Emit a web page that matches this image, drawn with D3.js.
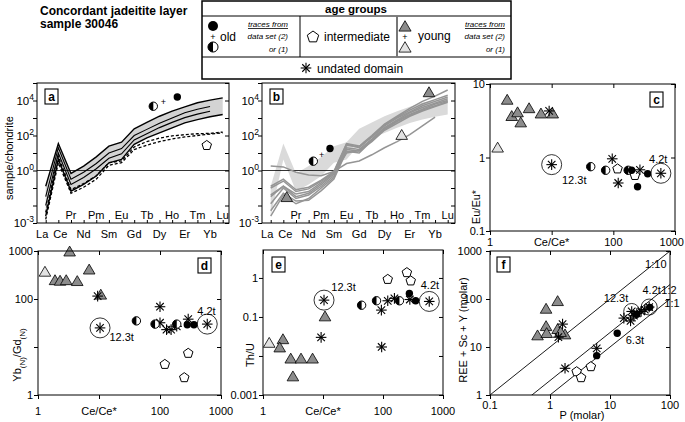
<!DOCTYPE html>
<html><head><meta charset="utf-8">
<script src="https://cdn.jsdelivr.net/npm/d3@7"></script>
<style>
body{margin:0;background:#fff}
svg{display:block}
text{font-family:"Liberation Sans",Arial,sans-serif;fill:#000}
</style>
</head><body>
<svg id="chart" width="685" height="422"></svg>
<script>
// ---------------- DATA ----------------
const elements = ["La","Ce","Pr","Nd","Pm","Sm","Eu","Gd","Tb","Dy","Ho","Er","Tm","Yb","Lu"];
// panel a: envelope of old/intermediate zircon patterns
const envUpper = [0.126,34.7,0.68,1.78,6.0,24.5,41.7,240,562,1260,2450,4360,7410,10500,14100];
const envLower = [0.0025,4.3,0.066,0.16,0.48,2.75,4.3,31,74,141,275,525,813,1175,1585];
const aSolid = [
  [0.032,20,0.32,0.79,2.5,10,17.8,100,224,500,1000,2000,3160,4570,null],
  [0.01,10,0.16,0.4,1.26,5,8.9,56,126,282,562,1050,1660,2450,null]
];
const aDashed = [
  [0.0016,2.8,0.05,0.11,0.32,2.0,2.8,15.8,28,45,63,83,100,120,141],
  [0.004,6.3,0.08,0.18,0.5,2.8,3.5,22,45,71,95,112,126,132,158]
];
// panel b: young zircon patterns
const bLines = [
  [1.8,1.6,0.79,0.56,0.5,0.89,2.5,3.5,7.9,20,45,112,355,1120,null],
  [0.126,0.32,0.079,0.11,0.28,0.89,35,25,100,450,1260,3550,8900,17800,40000],
  [0.1,0.25,0.063,0.089,0.25,0.79,32,20,89,400,1120,2800,6300,11200,20000],
  [0.04,0.126,0.032,0.05,0.16,0.63,28,22,79,355,1000,2240,5000,8900,15800],
  [0.0126,0.1,0.025,0.04,0.126,0.5,20,16,63,280,790,2000,4000,7100,12600],
  [0.0025,0.04,0.0126,0.025,0.1,0.4,16,12.6,56,250,710,1580,3160,6300,10000],
  [0.005,0.05,0.018,0.02,0.071,0.32,12.6,10,50,224,630,1410,2800,5000,8900],
  [0.032,0.126,0.045,0.063,0.2,0.71,10,14,45,200,500,1260,2500,4470,7900]
];
// symbols on REE plots: [element index, value, type]
const aSymbols = [[8.51,4700,"half"],[10.41,15800,"full"],[12.74,27,"pent"]];
const bSymbols = [[3.37,3.4,"half"],[4.69,18,"full"],[1.27,0.028,"tri"],[12.52,27500,"tri"],[10.36,100,"triL"]];
const aPlus = [9.3,7900];
const bPlus = [4.03,7.2];

// panel c: Ce/Ce* vs Eu/Eu*
const cPoints = [
  [1.9,6.0,"tri"],[2.25,3.6,"tri"],[2.8,4.05,"tri"],[3.15,2.95,"tri"],[4.3,4.6,"tri"],[6.7,3.9,"tri"],[10.4,3.9,"tri"],
  [1.33,1.34,"triL"],[9.1,4.3,"ast"],
  [10,0.8,"cast"],[43,0.75,"half"],[75,0.67,"half"],[96,0.96,"ast"],[117,0.70,"pent"],[120,0.45,"ast"],
  [174,0.67,"half"],[198,0.67,"full"],[224,0.57,"pent"],[270,0.68,"ast"],[360,0.6,"full"],[247,0.40,"full"],[590,0.61,"cast"]
];
const cNotes = [[23.2,0.50,"12.3t"],[535,0.94,"4.2t"]];

// panel d: Ce/Ce* vs Yb(N)/Gd(N)
const dPoints = [
  [3.3,950,"tri"],[1.9,240,"tri"],[2.3,234,"tri"],[2.9,240,"tri"],[4.4,230,"tri"],[6.9,400,"tri"],[10.7,120,"tri"],
  [1.3,360,"triL"],[9.5,115,"ast"],
  [10.4,25,"cast"],[41,35,"half"],[100,69,"ast"],[83,30,"half"],[100,32,"ast"],[128,23,"ast"],[152,23,"ast"],
  [188,27,"ast"],[188,30,"half"],[290,38,"ast"],[280,29,"full"],[360,29,"full"],[595,30,"cast"],
  [120,4.35,"pent"],[290,7.4,"pent"],[250,2.3,"pent"]
];
const dNotes = [[23.5,16,"12.3t"],[578,56,"4.2t"]];

// panel e: Ce/Ce* vs Th/U
const ePoints = [
  [10.8,0.10,"tri"],[2.15,0.026,"tri"],[1.9,0.016,"tri"],[2.9,0.0083,"tri"],[4.3,0.0083,"tri"],[6.7,0.0083,"tri"],[3.15,0.0029,"tri"],
  [1.27,0.021,"triL"],[9.3,0.03,"ast"],[95,0.017,"ast"],
  [10.4,0.27,"cast"],[44,0.2,"half"],[78,0.26,"half"],[94,0.15,"ast"],[120,0.26,"ast"],[155,0.3,"ast"],[188,0.26,"half"],
  [280,0.28,"ast"],[275,0.40,"full"],[350,0.26,"full"],[590,0.25,"cast"],
  [120,0.92,"pent"],[250,1.37,"pent"],[290,0.84,"pent"]
];
const eNotes = [[22,0.59,"12.3t"],[605,0.66,"4.2t"]];

// panel f: P vs REE+Sc+Y (molar)
const fPoints = [
  [1.34,88,"tri"],[0.86,61,"tri"],[0.86,26.5,"tri"],[1.34,23,"tri"],[0.62,17,"tri"],[0.88,19,"tri"],[1.78,17.8,"tri"],[1.5,20,"tri"],
  [1.62,30,"ast"],[1.38,16,"ast"],[1.78,3.6,"ast"],[6.0,9.4,"ast"],
  [2.78,3.06,"pent"],[3.3,2.3,"pent"],[4.8,3.9,"pent"],
  [6.0,6.6,"full"],[13.2,19.3,"full"],
  [17,40,"ast"],[22,35,"ast"],[25,45,"ast"],[28,50,"ast"],[33,55,"ast"],[38,60,"ast"],[28,48,"full"],
  [23,55,"cast"],[45,68,"cast"],[46,67,"full"]
];
const fRatios = [[10,"1:10"],[2,"1:2"],[1,"1:1"]];
const fNotes = [[12.6,107,"12.3t"],[49.5,155,"4.2t"],[26,14,"6.3t"],[58,537,"1:10"],[96,155,"1:2"],[108,83,"1:1"]];

// ---------------- DRAWING ----------------
const svg = d3.select("#chart");

function sym(g, t, px, py, s) {
  s = s || 1;
  if (t === "tri" || t === "triL") {
    const h = 6 * s, w = 5.8 * s;
    g.append("path").attr("d", `M${px},${py - h}L${px + w},${py + h * 0.65}L${px - w},${py + h * 0.65}Z`)
      .attr("fill", t === "tri" ? "#8c8c8c" : "#e2e2e2").attr("stroke", "#000").attr("stroke-width", 0.8);
  } else if (t === "full") {
    g.append("circle").attr("cx", px).attr("cy", py).attr("r", 3.7 * s).attr("fill", "#000");
  } else if (t === "half") {
    const r = 4.2 * s;
    g.append("circle").attr("cx", px).attr("cy", py).attr("r", r).attr("fill", "#fff").attr("stroke", "#000").attr("stroke-width", 1);
    g.append("path").attr("d", `M${px},${py - r}A${r},${r} 0 0 0 ${px},${py + r}Z`).attr("fill", "#000");
  } else if (t === "pent") {
    const r = 5 * s;
    const pts = d3.range(5).map(k => {
      const a = (-90 + k * 72) * Math.PI / 180;
      return [px + r * Math.cos(a), py + r * Math.sin(a)];
    });
    g.append("path").attr("d", "M" + pts.join("L") + "Z").attr("fill", "#fff").attr("stroke", "#000").attr("stroke-width", 1);
  } else if (t === "ast" || t === "cast" || t === "castS") {
    const a = 5.3 * s;
    [0, 45, 90, 135].forEach(deg => {
      const r = deg * Math.PI / 180;
      g.append("line").attr("x1", px - a * Math.cos(r)).attr("y1", py - a * Math.sin(r))
        .attr("x2", px + a * Math.cos(r)).attr("y2", py + a * Math.sin(r))
        .attr("stroke", "#000").attr("stroke-width", 1.1);
    });
    if (t !== "ast") {
      g.append("circle").attr("cx", px).attr("cy", py).attr("r", t === "cast" ? 10 : 8)
        .attr("fill", "none").attr("stroke", "#000").attr("stroke-width", 0.8);
    }
  }
}

function letterBox(x, y, ch) {
  svg.append("rect").attr("x", x).attr("y", y).attr("width", 13).attr("height", 15)
    .attr("fill", "#fff").attr("stroke", "#000").attr("stroke-width", 1.1);
  svg.append("text").attr("x", x + 6.5).attr("y", y + 11.5).attr("text-anchor", "middle")
    .attr("font-size", 12).attr("font-weight", "bold").text(ch);
}

function frame(x0, y0, x1, y1) {
  svg.append("rect").attr("x", x0).attr("y", y0).attr("width", x1 - x0).attr("height", y1 - y0)
    .attr("fill", "none").attr("stroke", "#000").attr("stroke-width", 1);
}

function stripAxis(g) { g.select(".domain").remove(); g.selectAll("text").remove(); }

// ---- REE panels a and b ----
const yR = d3.scaleLog().domain([1e-3, 1e5]).range([223, 83]);
const xA = d3.scaleLinear().domain([0, 14]).range([45.7, 222.7]);
const xB = d3.scaleLinear().domain([0, 14]).range([270.7, 447.7]);
const decades = [1e-3, 1e-2, 1e-1, 1, 10, 100, 1e3, 1e4, 1e5];
const yLab = [[1e-3, "-3"], [1, "0"], [100, "2"], [1e4, "4"]];

function reeFrame(x, x0, x1) {
  svg.append("g").attr("transform", `translate(${x0},0)`).call(d3.axisLeft(yR).tickValues(decades).tickSize(4).tickSizeOuter(0)).call(stripAxis);
  svg.append("g").attr("transform", `translate(${x1},0)`).call(d3.axisRight(yR).tickValues(decades).tickSize(-4).tickSizeOuter(0)).call(stripAxis);
  svg.append("g").attr("transform", `translate(0,223)`).call(d3.axisBottom(x).tickValues(d3.range(15)).tickSize(-3).tickSizeOuter(0)).call(stripAxis);
  svg.selectAll(null).data(yLab).enter().append("text")
    .attr("x", x0 - 3).attr("y", d => yR(d[0]) + 4).attr("text-anchor", "end").attr("font-size", 11.5)
    .each(function (d) {
      const t = d3.select(this);
      t.append("tspan").text("10");
      t.append("tspan").attr("dy", -5).attr("font-size", 8.5).text(d[1]);
    });
  elements.forEach((el, i) => {
    const bottomRow = (i === 0 || i % 2 === 1);
    const shift = i === 0 ? -3.5 : (i === 1 ? 2 : 0);
    svg.append("text").attr("x", x(i) + shift).attr("y", bottomRow ? 238 : 219).attr("text-anchor", "middle")
      .attr("font-size", 11).text(el);
  });
  svg.append("line").attr("x1", x0).attr("x2", x1).attr("y1", yR(1)).attr("y2", yR(1)).attr("stroke", "#000").attr("stroke-width", 0.8);
}

// panel a
const bandArea = x => d3.area().x((d, i) => x(i)).y0((d, i) => yR(envLower[i])).y1((d, i) => yR(envUpper[i]));
const lineGen = x => d3.line().defined(d => d != null).x((d, i) => x(i)).y(d => yR(d));

svg.append("path").datum(envUpper).attr("d", bandArea(xA)).attr("fill", "#d3d3d3");
reeFrame(xA, 37, 229);
aDashed.forEach(l => svg.append("path").datum(l).attr("d", lineGen(xA)).attr("fill", "none")
  .attr("stroke", "#000").attr("stroke-width", 1.3).attr("stroke-dasharray", "3,2"));
[envUpper, envLower].concat(aSolid).forEach((l, k) => svg.append("path").datum(l).attr("d", lineGen(xA))
  .attr("fill", "none").attr("stroke", "#000").attr("stroke-width", k < 2 ? 1.4 : 1.1));
aSymbols.forEach(d => sym(svg, d[2], xA(d[0]), yR(d[1])));
svg.append("text").attr("x", xA(aPlus[0])).attr("y", yR(aPlus[1]) + 3).attr("text-anchor", "middle").attr("font-size", 9).text("+");
frame(37, 83, 229, 223);
letterBox(45, 89, "a");
svg.append("text").attr("transform", "translate(13,158) rotate(-90)").attr("text-anchor", "middle").attr("font-size", 11).text("sample/chondrite");

// panel b
svg.append("path").datum(envUpper).attr("d", bandArea(xB)).attr("fill", "#dadada");
reeFrame(xB, 262, 455);
bLines.forEach(l => svg.append("path").datum(l).attr("d", lineGen(xB)).attr("fill", "none")
  .attr("stroke", "#959595").attr("stroke-width", 1.5));
bSymbols.forEach(d => sym(svg, d[2], xB(d[0]), yR(d[1])));
svg.append("text").attr("x", xB(bPlus[0])).attr("y", yR(bPlus[1]) + 3).attr("text-anchor", "middle").attr("font-size", 9).text("+");
frame(262, 83, 455, 223);
letterBox(270, 89, "b");

// ---- scatter panels ----
function scatterPanel(o) {
  const x = d3.scaleLog().domain(o.xd).range([o.x0, o.x1]);
  const y = d3.scaleLog().domain(o.yd).range([o.y1, o.y0]);
  svg.append("g").attr("transform", `translate(${o.x0},0)`).call(d3.axisLeft(y).tickValues(o.yt).tickSize(4).tickSizeOuter(0)).call(stripAxis);
  svg.append("g").attr("transform", `translate(${o.x1},0)`).call(d3.axisRight(y).tickValues(o.yt).tickSize(-4).tickSizeOuter(0)).call(stripAxis);
  svg.append("g").attr("transform", `translate(0,${o.y1})`).call(d3.axisBottom(x).tickValues(o.xt).tickSize(4).tickSizeOuter(0)).call(stripAxis);
  svg.append("g").attr("transform", `translate(0,${o.y0})`).call(d3.axisTop(x).tickValues(o.xt).tickSize(-4).tickSizeOuter(0)).call(stripAxis);
  o.yt.forEach((v, i) => {
    if (o.yl[i]) svg.append("text").attr("x", o.x0 - (o.ylx || 5)).attr("y", y(v) + 4).attr("text-anchor", "end").attr("font-size", 11).text(o.yl[i]);
  });
  o.xt.forEach((v, i) => {
    if (!o.xl[i]) return;
    const t = svg.append("text").attr("y", o.y1 + o.xly).attr("font-size", 11).text(o.xl[i]);
    if (x(v) + 13 > 684) t.attr("x", 684).attr("text-anchor", "end");
    else t.attr("x", x(v)).attr("text-anchor", "middle");
  });
  const g = svg.append("g");
  if (o.before) o.before(g, x, y);
  const order = { tri: 0, triL: 0, pent: 1, ast: 2, cast: 2, half: 3, full: 4 };
  o.pts.slice().sort((a, b) => order[a[2]] - order[b[2]]).forEach(d => {
    sym(g, d[2] === "cast" && o.small ? "castS" : d[2], x(d[0]), y(d[1]));
  });
  o.notes.forEach(n => svg.append("text").attr("x", x(n[0])).attr("y", y(n[1]) + 4).attr("text-anchor", "middle").attr("font-size", 11).text(n[2]));
  frame(o.x0, o.y0, o.x1, o.y1);
  return { x, y };
}

// panel c
scatterPanel({ x0: 490, x1: 675, y0: 84, y1: 231, xd: [1, 1000], yd: [0.1, 10],
  xt: [1, 10, 100, 1000], xl: ["1", "Ce/Ce*", "100", "1000"], xly: 15,
  yt: [0.1, 1, 10], yl: ["0.1", "1", "10"], pts: cPoints, notes: cNotes });
letterBox(650, 92, "c");
svg.append("text").attr("transform", "translate(480,207) rotate(-90)").attr("text-anchor", "middle").attr("font-size", 11).text("Eu/Eu*");

// panel d
scatterPanel({ x0: 38, x1: 221, y0: 251, y1: 395, xd: [1, 1000], yd: [1, 1000],
  xt: [1, 10, 100, 1000], xl: ["1", "Ce/Ce*", "100", "1000"], xly: 20,
  yt: [1, 10, 100, 1000], yl: ["1", "", "100", "1000"], pts: dPoints, notes: dNotes });
letterBox(198, 258, "d");
{
  const t = svg.append("text").attr("transform", "translate(21,355) rotate(-90)").attr("text-anchor", "middle").attr("font-size", 11);
  t.append("tspan").text("Yb");
  t.append("tspan").attr("dy", 3.5).attr("font-size", 8).text("(N)");
  t.append("tspan").attr("dy", -3.5).text("/Gd");
  t.append("tspan").attr("dy", 3.5).attr("font-size", 8).text("(N)");
}

// panel e
scatterPanel({ x0: 263, x1: 443, y0: 250, y1: 395, xd: [1, 1000], yd: [0.001, 5.2],
  xt: [1, 10, 100, 1000], xl: ["1", "Ce/Ce*", "100", "1000"], xly: 20,
  yt: [0.001, 0.01, 0.1, 1], yl: ["0.001", "", "0.1", "1"], pts: ePoints, notes: eNotes });
letterBox(272, 257, "e");
svg.append("text").attr("transform", "translate(254,355) rotate(-90)").attr("text-anchor", "middle").attr("font-size", 11).text("Th/U");

// panel f
scatterPanel({ x0: 490, x1: 670, y0: 251, y1: 395, xd: [0.1, 100], yd: [1, 1000],
  xt: [0.1, 1, 10, 100], xl: ["0.1", "1", "10", "100"], xly: 14, small: true, ylx: 8,
  yt: [1, 10, 100, 1000], yl: ["1", "10", "100", "1000"], pts: fPoints, notes: fNotes,
  before: (g, x, y) => {
    svg.append("clipPath").attr("id", "clipf").append("rect").attr("x", 490).attr("y", 251).attr("width", 180).attr("height", 144);
    fRatios.forEach(r => {
      const xs = [0.1, 100];
      g.append("line").attr("clip-path", "url(#clipf)")
        .attr("x1", x(xs[0])).attr("y1", y(xs[0] * r[0])).attr("x2", x(xs[1])).attr("y2", y(xs[1] * r[0]))
        .attr("stroke", "#000").attr("stroke-width", 0.9);
    });
  } });
letterBox(497, 257, "f");
svg.append("text").attr("x", 582).attr("y", 419).attr("text-anchor", "middle").attr("font-size", 11).text("P (molar)");
svg.append("text").attr("transform", "translate(467,330) rotate(-90)").attr("text-anchor", "middle").attr("font-size", 11).text("REE + Sc + Y (molar)");

// ---- title ----
svg.append("text").attr("x", 40).attr("y", 15).attr("font-size", 12).attr("font-weight", "bold").text("Concordant jadeitite layer");
svg.append("text").attr("x", 40).attr("y", 28).attr("font-size", 12).attr("font-weight", "bold").text("sample 30046");

// ---- legend ----
const L = svg.append("g");
L.append("rect").attr("x", 202).attr("y", 1).attr("width", 309).attr("height", 78).attr("fill", "#fff").attr("stroke", "#000").attr("stroke-width", 1.5);
L.append("line").attr("x1", 202).attr("x2", 511).attr("y1", 16).attr("y2", 16).attr("stroke", "#000");
L.append("line").attr("x1", 202).attr("x2", 511).attr("y1", 57).attr("y2", 57).attr("stroke", "#000");
L.append("line").attr("x1", 300).attr("x2", 300).attr("y1", 16).attr("y2", 57).attr("stroke", "#000");
L.append("line").attr("x1", 397).attr("x2", 397).attr("y1", 16).attr("y2", 57).attr("stroke", "#777").attr("stroke-width", 2);
L.append("text").attr("x", 356).attr("y", 12.5).attr("text-anchor", "middle").attr("font-size", 11.5).attr("font-weight", "bold").text("age groups");
sym(L, "full", 213, 26, 1.35);
L.append("text").attr("x", 213).attr("y", 40).attr("text-anchor", "middle").attr("font-size", 9).text("+");
sym(L, "half", 213, 47, 1.2);
L.append("text").attr("x", 220).attr("y", 41).attr("font-size", 12).text("old");
sym(L, "pent", 313, 37, 1.2);
L.append("text").attr("x", 324).attr("y", 41).attr("font-size", 12).text("intermediate");
sym(L, "tri", 405, 27, 1.05);
L.append("text").attr("x", 405).attr("y", 40).attr("text-anchor", "middle").attr("font-size", 9).text("+");
sym(L, "triL", 405, 48, 1.05);
L.append("text").attr("x", 418).attr("y", 40).attr("font-size", 12).text("young");
[[288], [505]].forEach(([xe]) => {
  L.append("text").attr("x", xe).attr("y", 27).attr("text-anchor", "end").attr("font-size", 8).attr("font-style", "italic").attr("text-decoration", "underline").text("traces from");
  L.append("text").attr("x", xe).attr("y", 38.5).attr("text-anchor", "end").attr("font-size", 8).attr("font-style", "italic").text("data set (2)");
  L.append("text").attr("x", xe).attr("y", 51.5).attr("text-anchor", "end").attr("font-size", 8).attr("font-style", "italic").text("or (1)");
});
sym(L, "ast", 306, 68);
L.append("text").attr("x", 317).attr("y", 72.5).attr("font-size", 12).text("undated domain");
</script>
</body></html>
